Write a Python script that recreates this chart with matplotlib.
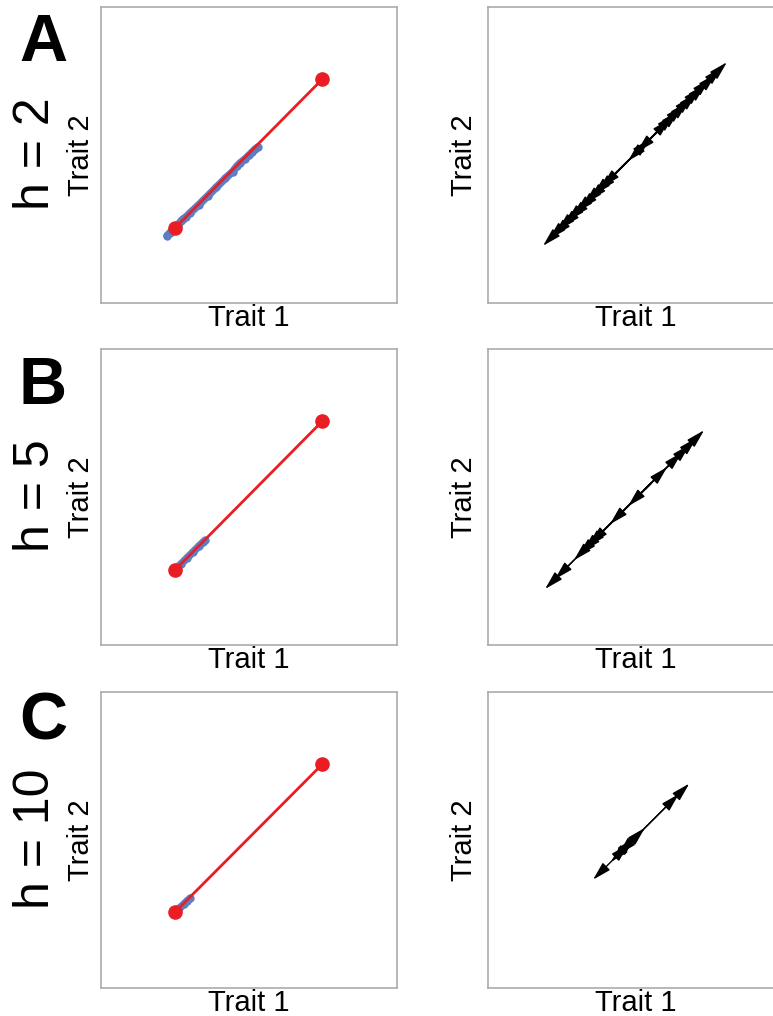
import matplotlib
matplotlib.use("Agg")
import matplotlib.pyplot as plt

plt.rcParams["font.family"] = ["Liberation Sans", "DejaVu Sans"]

# panel labels
letters = ["A", "B", "C"]
h_labels = ["h = 2", "h = 5", "h = 10"]

# red line: start and end of the lineage (trait 1, trait 2)
red_start = [(2.5, 2.52), (2.5, 2.52), (2.5, 2.55)]
red_end = [(7.47, 7.55), (7.47, 7.55), (7.47, 7.55)]

# blue trajectories
blue_x_h2 = [2.23, 2.33, 2.45, 2.6, 2.7, 2.78, 2.88, 3.0, 3.3, 3.6, 3.9, 4.2,
             4.45, 4.6, 4.7, 4.85, 5.0, 5.1, 5.2, 5.3]
blue_y_h2 = [2.26, 2.36, 2.5, 2.62, 2.75, 2.83, 2.9, 3.02, 3.3, 3.6, 3.9, 4.2,
             4.43, 4.62, 4.72, 4.84, 4.98, 5.08, 5.18, 5.26]
blue_x_h5 = [2.5, 2.7, 2.9, 3.1, 3.3, 3.45, 3.52]
blue_y_h5 = [2.52, 2.72, 2.92, 3.12, 3.32, 3.46, 3.52]
blue_x_h10 = [2.5, 2.65, 2.8, 2.92, 3.02]
blue_y_h10 = [2.55, 2.68, 2.82, 2.94, 3.02]

# arrows: (tail trait 1, tail trait 2, head trait 1, head trait 2)
arrows_h2 = [(5.2, 5.26, 1.86, 1.92), (5.2, 5.26, 2.05, 2.13), (5.2, 5.26, 2.2, 2.24),
             (5.2, 5.26, 2.35, 2.43), (5.2, 5.26, 2.5, 2.54), (5.2, 5.26, 2.65, 2.73),
             (5.2, 5.26, 2.8, 2.84), (5.2, 5.26, 2.95, 3.03), (5.2, 5.26, 3.1, 3.14),
             (5.2, 5.26, 3.25, 3.33), (5.2, 5.26, 3.4, 3.44), (5.2, 5.26, 3.55, 3.63),
             (5.2, 5.26, 3.7, 3.74), (5.2, 5.26, 3.85, 3.91), (5.3, 5.36, 4.73, 4.79),
             (5.3, 5.36, 5.03, 5.09), (5.0, 5.06, 5.47, 5.53), (5.0, 5.06, 6.15, 6.21),
             (5.0, 5.06, 6.3, 6.38), (5.0, 5.06, 6.45, 6.49), (5.0, 5.06, 6.6, 6.68),
             (5.0, 5.06, 6.75, 6.79), (5.0, 5.06, 6.9, 6.98), (5.0, 5.06, 7.05, 7.09),
             (5.0, 5.06, 7.2, 7.28), (5.0, 5.06, 7.35, 7.39), (5.0, 5.06, 7.5, 7.58),
             (5.0, 5.06, 7.7, 7.74), (5.0, 5.06, 7.9, 7.96), (5.0, 5.06, 8.07, 8.13)]
arrows_h5 = [(5.5, 5.45, 1.93, 1.88), (5.5, 5.45, 2.26, 2.21), (5.5, 5.45, 2.9, 2.85),
             (5.5, 5.45, 3.05, 3.0), (5.5, 5.45, 3.2, 3.15), (5.5, 5.45, 3.35, 3.3),
             (5.5, 5.45, 3.45, 3.4), (5.5, 5.45, 4.12, 4.07), (5.5, 5.45, 4.73, 4.68),
             (5.3, 5.25, 6.05, 6.0), (5.3, 5.25, 6.55, 6.5), (5.3, 5.25, 6.82, 6.77),
             (5.3, 5.25, 7.05, 7.0), (5.3, 5.25, 7.3, 7.25)]
arrows_h10 = [(4.6, 4.7, 3.55, 3.65), (4.6, 4.7, 4.15, 4.25), (4.6, 4.7, 4.4, 4.5),
              (4.4, 4.5, 4.75, 4.85), (4.4, 4.5, 4.95, 5.05), (4.4, 4.5, 5.3, 5.4),
              (4.4, 4.5, 6.45, 6.55), (4.4, 4.5, 6.8, 6.9)]

blue_x = [blue_x_h2, blue_x_h5, blue_x_h10]
blue_y = [blue_y_h2, blue_y_h5, blue_y_h10]
arrows = [arrows_h2, arrows_h5, arrows_h10]

W, H = 773, 1016
fig = plt.figure(figsize=(W / 100, H / 100), dpi=100)

row_top = [7, 349, 692]
box_w, box_h = 296, 295.5
left_x = [101, 488]
letter_y = [44, 387, 722]
h_y = [154, 496, 839]

blue_c = "#5B7FC0"
red_c = "#EA1D25"
spine_c = "#ababab"


def make_ax(x0, top):
    ax = fig.add_axes([x0 / W, 1 - (top + box_h) / H, box_w / W, box_h / H])
    ax.set(xlim=(0, 10), ylim=(0, 10), xticks=[], yticks=[])
    for s in ax.spines.values():
        s.set_color(spine_c)
        s.set_linewidth(1.2)
    ax.set_xlabel("Trait 1", fontsize=21, labelpad=1)
    return ax


for i in range(3):
    top = row_top[i]

    # left: trajectory
    ax = make_ax(left_x[0], top)
    ax.set_ylabel("Trait 2", fontsize=21, labelpad=4)
    ax.plot(blue_x[i], blue_y[i], color=blue_c, lw=5.5, marker="o", ms=6, mew=0,
            solid_capstyle="round", solid_joinstyle="round", zorder=2)
    ax.plot([red_start[i][0], red_end[i][0]], [red_start[i][1], red_end[i][1]],
            color=red_c, lw=2, zorder=3)
    ax.plot([red_start[i][0], red_end[i][0]], [red_start[i][1], red_end[i][1]],
            color=red_c, ls="none", marker="o", ms=9.5, zorder=4)

    # right: arrows
    ax2 = make_ax(left_x[1], top)
    ax2.set_ylabel("Trait 2", fontsize=21, labelpad=7)
    for x0, y0, x1, y1 in arrows[i]:
        ax2.annotate("", xy=(x1, y1), xytext=(x0, y0),
                     arrowprops=dict(arrowstyle="-|>,head_length=0.8,head_width=0.22",
                                     color="black", lw=1.0, mutation_scale=14,
                                     shrinkA=0, shrinkB=0))

    fig.text(43 / W, 1 - letter_y[i] / H, letters[i], fontsize=48, fontweight="bold",
             ha="center", va="center")
    fig.text(36 / W, 1 - h_y[i] / H, h_labels[i], fontsize=36, rotation=90,
             ha="center", va="center")

fig.savefig("out.png", dpi=100)
